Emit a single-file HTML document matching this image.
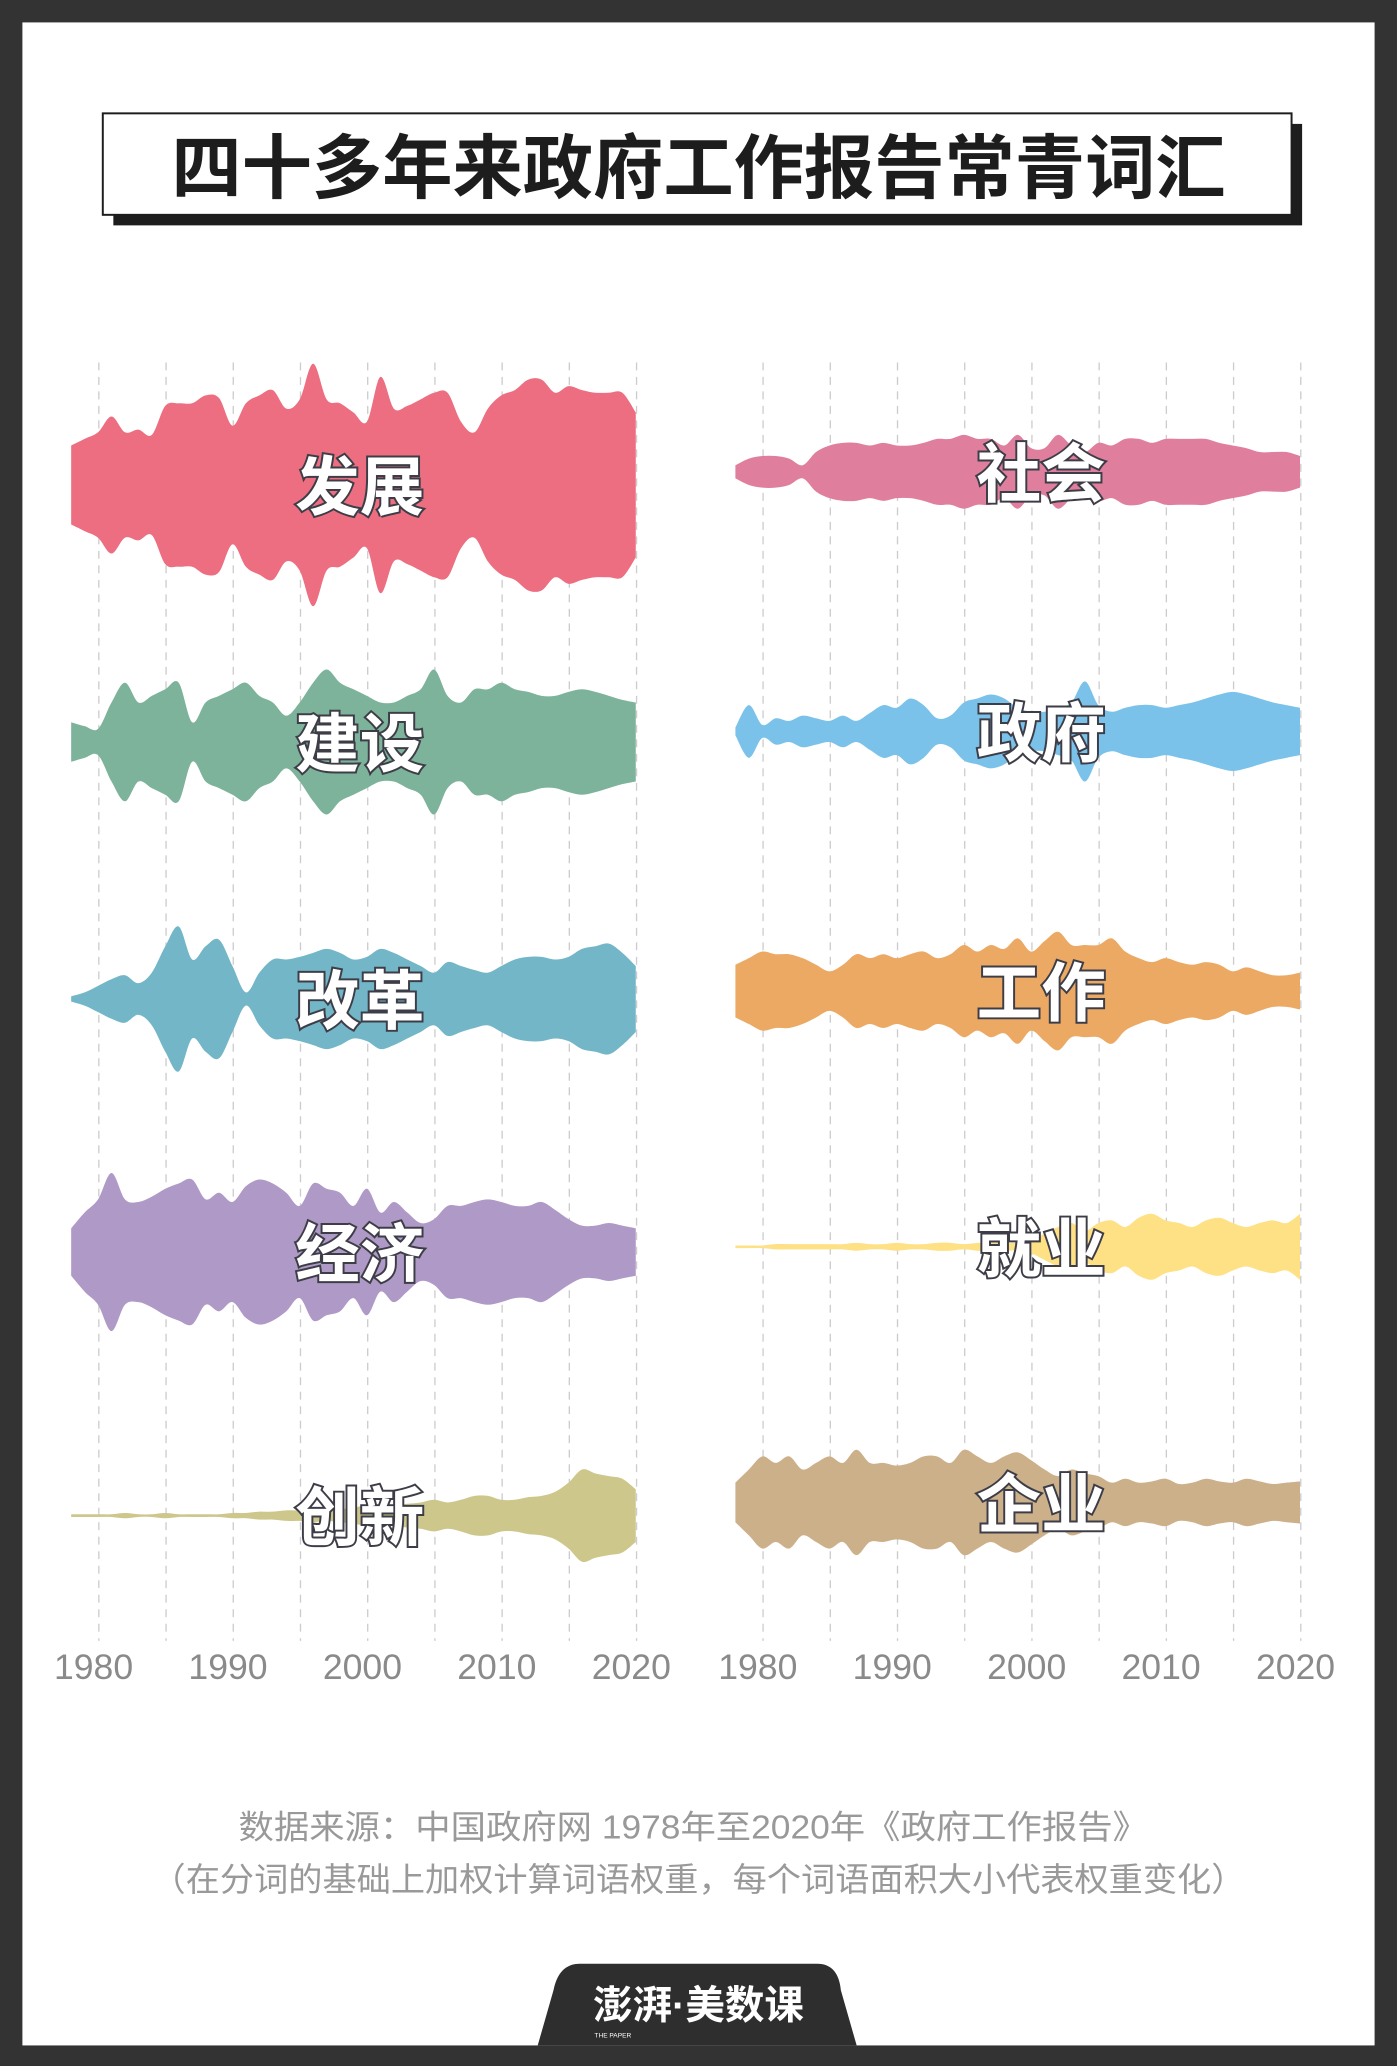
<!DOCTYPE html>
<html><head><meta charset="utf-8">
<style>
html,body{margin:0;padding:0;background:#333;}
svg{display:block;}
</style></head>
<body>
<svg id="s" width="1397" height="2066" viewBox="0 0 1060 1567.6" xmlns="http://www.w3.org/2000/svg">
<rect x="0" y="0" width="1060" height="1567.6" fill="#333"/>
<rect x="17" y="17" width="1026" height="1535" fill="#fff"/>
<rect x="86" y="94" width="902" height="77" fill="#1d1d1d"/>
<rect x="78" y="86" width="902" height="77" fill="#fff" stroke="#1d1d1d" stroke-width="1.5"/>
<text x="530" y="146" text-anchor="middle" font-family="'Liberation Sans','Noto Sans CJK SC',sans-serif" font-weight="bold" font-size="53" fill="#1d1d1d" textLength="800" lengthAdjust="spacingAndGlyphs">四十多年来政府工作报告常青词汇</text>
<g id="grid"></g>
<g id="streams"></g>
<g id="labels" font-family="'Liberation Sans','Noto Sans CJK SC',sans-serif" font-weight="bold" font-size="49" fill="#fff" stroke="#3d3d47" stroke-width="3" paint-order="stroke" text-anchor="middle"></g>
<g id="ticks" font-family="'Liberation Sans Narrow','Liberation Sans',sans-serif" font-size="27" fill="#8a8a8a" text-anchor="middle"></g>
<text x="526" y="1395" text-anchor="middle" font-family="'Liberation Sans','Noto Sans CJK SC',sans-serif" font-size="25" fill="#999" textLength="690" lengthAdjust="spacingAndGlyphs">数据来源：中国政府网 1978年至2020年《政府工作报告》</text>
<text x="530" y="1435" text-anchor="middle" font-family="'Liberation Sans','Noto Sans CJK SC',sans-serif" font-size="25" fill="#999" textLength="830" lengthAdjust="spacingAndGlyphs">（在分词的基础上加权计算词语权重，每个词语面积大小代表权重变化）</text>
<path d="M408 1552 L420 1510 Q424 1490 440 1490 L620 1490 Q636 1490 638 1510 L650 1552 Z" fill="#2e2e2e"/>
<text x="530" y="1532" text-anchor="middle" font-family="'Liberation Sans','Noto Sans CJK SC',sans-serif" font-weight="bold" font-size="30" fill="#fff">澎湃·美数课</text>
<text x="465" y="1546" text-anchor="middle" font-family="'Liberation Sans',sans-serif" font-size="5" fill="#fff">THE PAPER</text>
</svg>
<script>
var NS="http://www.w3.org/2000/svg";
function el(t,a,p){var e=document.createElementNS(NS,t);for(var k in a)e.setAttribute(k,a[k]);p.appendChild(e);return e;}
var grid=document.getElementById('grid'),st=document.getElementById('streams'),lb=document.getElementById('labels'),tk=document.getElementById('ticks');
[54,558].forEach(function(x0){
  for(var i=0;i<9;i++){var x=x0+21+i*51;el('line',{x1:x,x2:x,y1:275,y2:1245,stroke:'#ccc','stroke-width':1,'stroke-dasharray':'6,5'},grid);}
  for(var j=0;j<5;j++){var t=el('text',{x:x0+17+j*102,y:1274},tk);t.textContent=String(1980+j*10);}
});
var D=[
 [54,368,'#ec6e80','发展',[30,35,40,52,40,42,38,60,62,62,68,66,45,62,68,72,58,65,92,65,62,55,48,82,58,60,65,70,70,48,40,58,68,72,80,80,70,75,72,70,70,70,55]],
 [558,358,'#df7f9d','社会',[5,10,12,12,10,5,15,20,22,22,20,22,20,20,22,25,25,28,25,25,20,28,18,18,28,20,15,22,20,25,25,22,25,25,25,25,22,20,18,15,15,15,12]],
 [54,563,'#7db39a','建设',[15,12,10,30,45,30,35,40,45,15,30,35,40,45,35,30,20,30,45,55,45,40,35,30,30,35,40,55,35,30,40,40,45,40,38,35,35,38,40,38,35,32,30]],
 [558,555,'#7bc2ea','政府',[3,20,5,10,8,12,10,8,12,8,14,20,18,25,20,10,12,22,25,28,25,18,15,15,18,22,38,20,15,18,20,20,18,20,22,25,28,30,28,25,22,20,18]],
 [54,758,'#72b6c7','改革',[2,5,10,15,18,12,20,40,55,30,40,45,25,5,20,30,30,32,35,38,35,30,32,38,35,30,25,20,28,25,22,20,25,30,32,32,30,32,38,40,42,35,25]],
 [558,752,'#eca964','工作',[20,25,30,28,28,25,20,15,20,28,25,28,25,28,30,25,28,35,30,35,32,40,30,38,45,35,35,35,40,30,25,22,25,22,20,22,20,15,18,15,12,12,14]],
 [54,950,'#af99c6','经济',[18,30,40,60,40,38,42,48,52,55,40,45,38,50,55,52,45,35,52,48,45,35,48,30,38,30,22,25,35,35,38,40,38,35,35,38,32,25,20,20,22,20,18]],
 [558,946,'#fee085','就业',[1,1,1,2,2,2,2,2,2,3,2,2,3,2,2,3,3,2,3,3,3,3,5,10,15,18,12,18,20,15,22,25,20,18,15,20,22,18,15,18,20,18,25]],
 [54,1150,'#cdc78b','创新',[1,1,1,1,2,1,1,2,1,1,1,1,2,2,3,3,4,4,5,4,5,6,8,7,8,9,10,12,10,12,15,15,12,12,14,15,18,25,35,32,30,28,20]],
 [558,1140,'#ccb08a','企业',[15,25,35,30,35,25,30,35,30,40,30,30,28,30,35,35,30,40,35,30,35,38,32,25,20,25,22,20,15,18,15,16,18,14,15,18,16,15,18,16,14,15,16]]
];
function spline(pts){var d='';for(var i=0;i<pts.length-1;i++){var p0=pts[Math.max(0,i-1)],p1=pts[i],p2=pts[i+1],p3=pts[Math.min(pts.length-1,i+2)];
 var c1x=p1[0]+(p2[0]-p0[0])/6,c1y=p1[1]+(p2[1]-p0[1])/6,c2x=p2[0]-(p3[0]-p1[0])/6,c2y=p2[1]-(p3[1]-p1[1])/6;
 d+=' C'+c1x.toFixed(1)+' '+c1y.toFixed(1)+' '+c2x.toFixed(1)+' '+c2y.toFixed(1)+' '+p2[0].toFixed(1)+' '+p2[1].toFixed(1);}return d;}
D.forEach(function(s){
 var x0=s[0],cy=s[1],h=s[4],top=[],bot=[];
 for(var i=0;i<h.length;i++){var x=x0+i*10.2;top.push([x,cy-h[i]]);bot.push([x,cy+h[i]]);}
 bot.reverse();
 var d='M'+top[0][0]+' '+top[0][1]+spline(top)+' L'+bot[0][0]+' '+bot[0][1]+spline(bot)+' Z';
 el('path',{d:d,fill:s[2]},st);
 var lx = x0<300 ? x0+219 : x0+232;
 var t=el('text',{x:lx,y:cy+19},lb);t.textContent=s[3];
});
</script>
</body></html>
